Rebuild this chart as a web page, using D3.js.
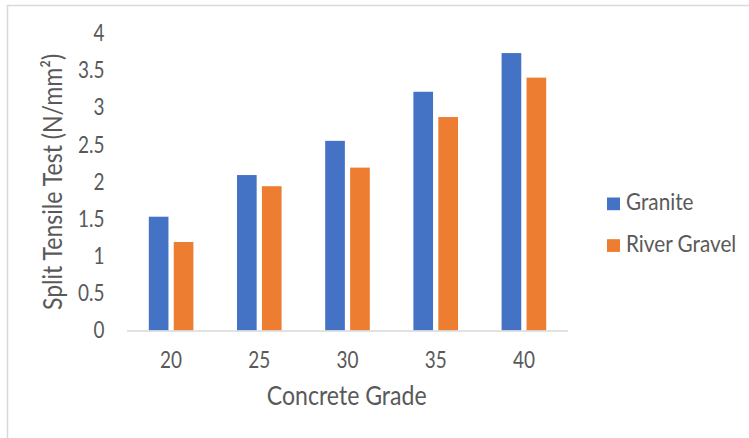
<!DOCTYPE html>
<html>
<head>
<meta charset="utf-8">
<script src="https://cdn.jsdelivr.net/npm/d3@7"></script>
<style>
  html, body { margin: 0; padding: 0; background: #fff; }
  svg { display: block; }
  text { font-family: Lato, "Liberation Sans", sans-serif; fill: #595959; }
</style>
</head>
<body>
<svg id="chart" width="749" height="438"></svg>
<script>
// Split tensile strength by concrete grade and aggregate type
const grades = ["20", "25", "30", "35", "40"];
const seriesNames = ["Granite", "River Gravel"];
const granite = [1.53, 2.09, 2.55, 3.21, 3.73];
const riverGravel = [1.19, 1.94, 2.19, 2.87, 3.40];
const yTicks = [0, 0.5, 1, 1.5, 2, 2.5, 3, 3.5, 4];
const colors = ["#4472C4", "#ED7D31"];

const svg = d3.select("#chart");
// horizontal squeeze for the narrow label face
const sxTick = 0.85, sxTitle = 0.87, sxLegend = 0.93;

// outer frame (left and top edges visible)
svg.append("rect")
  .attr("x", 7.5).attr("y", 5.5)
  .attr("width", 800).attr("height", 500)
  .attr("fill", "none").attr("stroke", "#d9d9d9").attr("stroke-width", 1.5);

const plot = { left: 127, right: 568, top: 33, bottom: 330.5 };

const x0 = d3.scaleBand().domain(grades).range([plot.left, plot.right]);
const x1 = d3.scaleBand().domain(seriesNames)
  .range([21.8, x0.bandwidth() - 21.8]).paddingInner(0.212);
const y = d3.scaleLinear().domain([0, 4]).range([plot.bottom, plot.top]);

const rows = grades.map((g, i) => ({ grade: g, values: [granite[i], riverGravel[i]] }));

// bars
const groups = svg.append("g").selectAll("g").data(rows).join("g")
  .attr("transform", d => `translate(${x0(d.grade)},0)`);
groups.selectAll("rect")
  .data(d => d.values.map((v, j) => ({ name: seriesNames[j], value: v, j })))
  .join("rect")
  .attr("x", d => x1(d.name))
  .attr("width", x1.bandwidth())
  .attr("y", d => y(d.value))
  .attr("height", d => y(0) - y(d.value))
  .attr("fill", d => colors[d.j]);

// category axis line
svg.append("line")
  .attr("x1", plot.left).attr("x2", plot.right)
  .attr("y1", y(0) + 0.5).attr("y2", y(0) + 0.5)
  .attr("stroke", "#d9d9d9").attr("stroke-width", 1.5);

const tickSize = 22.3;
const capT = tickSize * 0.7165;

// value axis labels
svg.append("g").selectAll("text").data(yTicks).join("text")
  .attr("transform", d => `translate(104.5,${y(d) + capT / 2}) scale(${sxTick},1)`)
  .attr("text-anchor", "end")
  .style("font-size", tickSize + "px")
  .text(d => d3.format("")(d));

// category labels
svg.append("g").selectAll("text").data(grades).join("text")
  .attr("transform", d => `translate(${x0(d) + x0.bandwidth() / 2},367.5) scale(${sxTick},1)`)
  .attr("text-anchor", "middle")
  .style("font-size", tickSize + "px")
  .text(d => d);

// axis titles
const titleSize = 26.5;
svg.append("text")
  .attr("transform", `translate(346.7,405) scale(${sxTitle},1)`)
  .attr("text-anchor", "middle")
  .style("font-size", titleSize + "px")
  .text("Concrete Grade");

svg.append("text")
  .attr("transform", `translate(61.7,182) rotate(-90) scale(${sxTitle},1)`)
  .attr("text-anchor", "middle")
  .style("font-size", titleSize + "px")
  .text("Split Tensile Test (N/mm²)");

// legend
const legend = svg.append("g").selectAll("g").data(seriesNames).join("g")
  .attr("transform", (d, i) => `translate(607,${197.5 + i * 41.7})`);
legend.append("rect")
  .attr("width", 13).attr("height", 12.7)
  .attr("fill", (d, i) => colors[i]);
legend.append("text")
  .attr("transform", `translate(19,12.7) scale(${sxLegend},1)`)
  .style("font-size", tickSize + "px")
  .text(d => d);
</script>
</body>
</html>
